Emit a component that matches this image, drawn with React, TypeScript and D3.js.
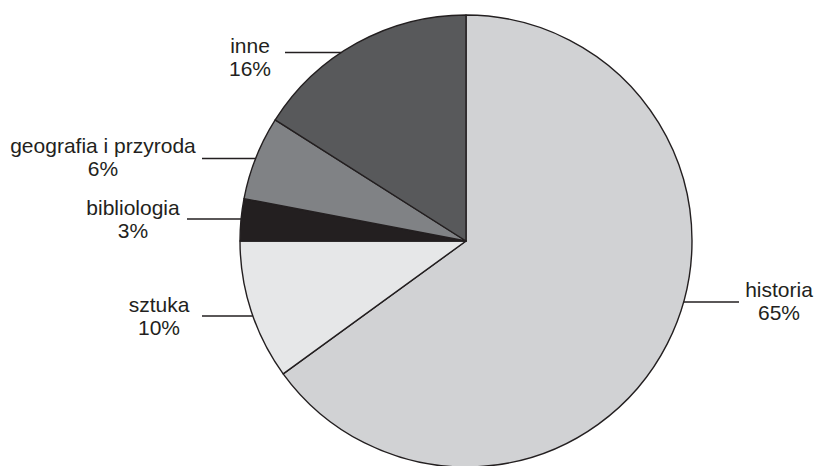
import React from "react";
import * as d3 from "d3";

const categories = ["historia", "sztuka", "bibliologia", "geografia i przyroda", "inne"];
const values = [65, 10, 3, 6, 16];
const colors = ["#d1d2d4", "#e6e7e8", "#231f20", "#808285", "#58595b"];

// label layout: leader line y, label center x, first baseline, outer end of leader line
const labelLineY = [302, 316, 219, 158.5, 52.5];
const labelCenterX = [779, 159, 133, 103, 250];
const labelBaseY = [297, 312, 215, 152.5, 53];
const lineOuterX = [739, 202, 187, 202, 285];

const W = 814;
const H = 466;
const cx = 466;
const cy = 241;
const R = 226;

export default function App() {
  const pie = d3.pie<number>().sort(null).value((d) => d);
  const arcs = pie(values);
  const arc = d3.arc<d3.PieArcDatum<number>>().innerRadius(0).outerRadius(R);

  return (
    <svg width={W} height={H} style={{ position: "absolute", left: 0, top: 0 }} fontFamily="'Liberation Sans', Arial, sans-serif">
      <rect width={W} height={H} fill="#ffffff" />
      <g transform={`translate(${cx},${cy})`}>
        {arcs.map((a, i) => (
          <path key={i} d={arc(a) || ""} fill={colors[i]} stroke="#231f20" strokeWidth={1.4} strokeLinejoin="round" />
        ))}
      </g>
      {categories.map((c, i) => {
        const y = labelLineY[i];
        const dy = y - cy;
        const dx = Math.sqrt(R * R - dy * dy);
        const right = labelCenterX[i] > cx;
        const edgeX = right ? cx + dx : cx - dx;
        return (
          <g key={c}>
            <line x1={lineOuterX[i]} y1={y} x2={edgeX} y2={y} stroke="#231f20" strokeWidth={1.5} />
            <text x={labelCenterX[i]} y={labelBaseY[i]} textAnchor="middle" fontSize={21} fill="#231f20">
              {c}
            </text>
            <text x={labelCenterX[i]} y={labelBaseY[i] + 23} textAnchor="middle" fontSize={21} fill="#231f20">
              {values[i]}%
            </text>
          </g>
        );
      })}
    </svg>
  );
}
